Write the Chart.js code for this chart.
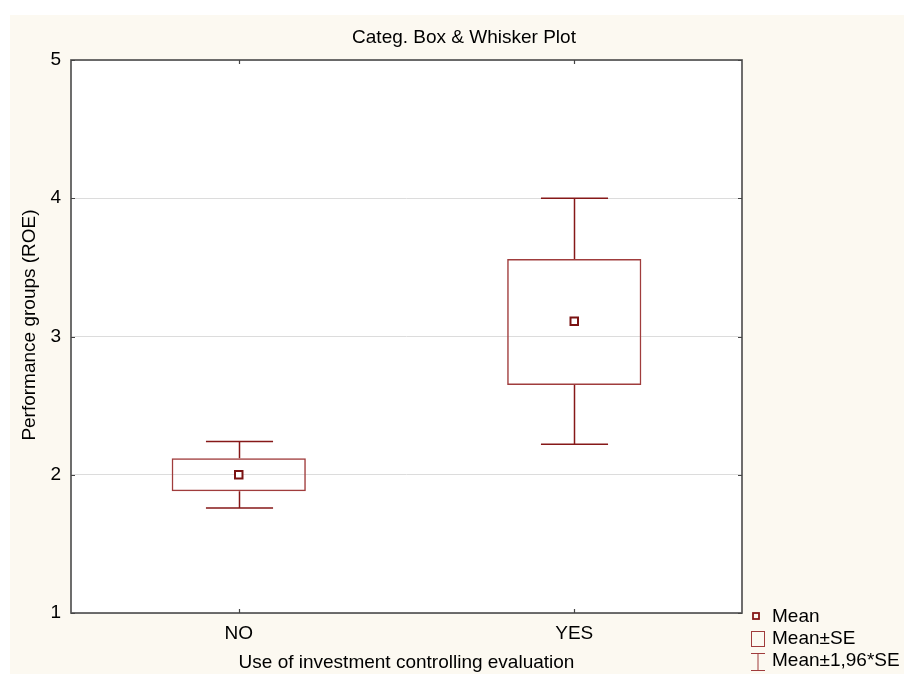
<!DOCTYPE html>
<html><head><meta charset="utf-8">
<script src="https://cdn.jsdelivr.net/npm/chart.js@4"></script>
<style>html,body{margin:0;padding:0;background:#fff}#wrap{width:904px;height:674px}</style>
</head><body><div id="wrap"><canvas id="c" width="904" height="674"></canvas></div>
<script>
const categories = ['NO', 'YES'];
const meanValues = [2.00, 3.11];
const seLow = [1.88, 2.65];
const seHigh = [2.12, 3.56];
const ciLow = [1.76, 2.22];
const ciHigh = [2.24, 4.00];
const yTicks = [1, 2, 3, 4, 5];
const legendLabels = ['Mean', 'Mean±SE', 'Mean±1,96*SE'];
const chartTitle = 'Categ. Box & Whisker Plot';
const xTitle = 'Use of investment controlling evaluation';
const yTitle = 'Performance groups (ROE)';

const FONT = '"Liberation Sans", Arial, sans-serif';
const MAROON = '#861818';
const MAROON_LIGHT = '#a03c3c';
Chart.defaults.font.family = FONT;
Chart.defaults.color = '#000';

const bgPlugin = {
  id: 'bg',
  beforeDraw(chart) {
    const {ctx, chartArea: a} = chart;
    ctx.save();
    ctx.fillStyle = '#ffffff';
    ctx.fillRect(0, 0, chart.width, chart.height);
    ctx.fillStyle = '#fcf9f1';
    ctx.fillRect(10, 15, chart.width - 10, chart.height - 15);
    ctx.fillStyle = '#ffffff';
    ctx.fillRect(a.left, a.top, a.right - a.left, a.bottom - a.top);
    ctx.restore();
  }
};

const whiskerPlugin = {
  id: 'whiskers',
  afterDatasetsDraw(chart) {
    const {ctx, scales: {x, y}} = chart;
    const meta = chart.getDatasetMeta(0);
    ctx.save();
    ctx.strokeStyle = MAROON;
    ctx.lineWidth = 1.5;
    categories.forEach((c, i) => {
      const bar = meta.data[i];
      const cx = Math.round(x.getPixelForValue(i)) + 0.5;
      const half = bar.width / 4;
      const yHi = y.getPixelForValue(ciHigh[i]);
      const yLo = y.getPixelForValue(ciLow[i]);
      const bTop = y.getPixelForValue(seHigh[i]);
      const bBot = y.getPixelForValue(seLow[i]);
      ctx.beginPath();
      ctx.moveTo(cx, bTop); ctx.lineTo(cx, yHi);
      ctx.moveTo(cx, bBot); ctx.lineTo(cx, yLo);
      ctx.moveTo(cx - half, yHi); ctx.lineTo(cx + half, yHi);
      ctx.moveTo(cx - half, yLo); ctx.lineTo(cx + half, yLo);
      ctx.stroke();
    });
    ctx.restore();
  }
};

const framePlugin = {
  id: 'frame',
  afterDraw(chart) {
    const {ctx, chartArea: a, scales: {x, y}} = chart;
    ctx.save();
    // frame
    ctx.strokeStyle = '#555555';
    ctx.lineWidth = 1.7;
    ctx.strokeRect(a.left, a.top, a.right - a.left, a.bottom - a.top);
    // inward ticks
    ctx.lineWidth = 1.2;
    ctx.strokeStyle = '#444';
    ctx.beginPath();
    x.ticks.forEach((t, i) => {
      const px = Math.round(x.getPixelForTick(i)) + 0.5;
      ctx.moveTo(px, a.bottom); ctx.lineTo(px, a.bottom - 4);
      ctx.moveTo(px, a.top); ctx.lineTo(px, a.top + 4);
    });
    y.ticks.forEach((t, i) => {
      const py = Math.round(y.getPixelForTick(i)) + 0.5;
      ctx.moveTo(a.left, py); ctx.lineTo(a.left + 4, py);
      ctx.moveTo(a.right, py); ctx.lineTo(a.right - 4, py);
    });
    ctx.stroke();

    ctx.fillStyle = '#000';
    ctx.font = '19px ' + FONT;
    ctx.textBaseline = 'middle';
    // title
    ctx.textAlign = 'center';
    ctx.fillText(chartTitle, 464, 38);
    // y-axis title
    ctx.save();
    ctx.translate(30, 325);
    ctx.rotate(-Math.PI / 2);
    ctx.fillText(yTitle, 0, 0);
    ctx.restore();

    // legend
    const lx = 772;
    const ly = [617, 639, 661];
    ctx.textAlign = 'left';
    ctx.fillText(legendLabels[0], lx, ly[0]);
    ctx.fillText(legendLabels[1], lx, ly[1]);
    ctx.fillText(legendLabels[2], lx, ly[2]);
    // icon: mean
    ctx.strokeStyle = MAROON;
    ctx.lineWidth = 1.8;
    ctx.strokeRect(753, 613, 6, 6);
    // icon: mean±SE
    ctx.strokeStyle = MAROON_LIGHT;
    ctx.lineWidth = 1;
    ctx.strokeRect(751.5, 631.5, 13, 15);
    // icon: mean±1.96SE
    ctx.beginPath();
    ctx.moveTo(751, 653.5); ctx.lineTo(765, 653.5);
    ctx.moveTo(758, 653.5); ctx.lineTo(758, 670.5);
    ctx.moveTo(751, 670.5); ctx.lineTo(765, 670.5);
    ctx.stroke();
    ctx.restore();
  }
};

new Chart(document.getElementById('c'), {
  type: 'bar',
  data: {
    labels: categories,
    datasets: [
      {
        type: 'bar',
        label: legendLabels[1],
        data: categories.map((c, i) => [seLow[i], seHigh[i]]),
        backgroundColor: 'rgba(255,255,255,0)',
        borderColor: MAROON_LIGHT,
        borderWidth: 1.5,
        borderSkipped: false,
        barPercentage: 0.4,
        categoryPercentage: 1,
        order: 2
      },
      {
        type: 'line',
        label: legendLabels[0],
        data: meanValues,
        showLine: false,
        pointStyle: 'rect',
        pointRadius: 5.3,
        pointHoverRadius: 5.3,
        pointBorderWidth: 2,
        pointBackgroundColor: '#ffffff',
        pointBorderColor: '#7a1212',
        order: 0
      }
    ]
  },
  options: {
    responsive: false,
    devicePixelRatio: 1,
    animation: false,
    events: [],
    layout: { padding: { left: 0, top: 60, right: 162, bottom: 0 } },
    plugins: {
      legend: { display: false },
      title: { display: false },
      tooltip: { enabled: false }
    },
    scales: {
      x: {
        type: 'category',
        offset: true,
        grid: { display: false },
        border: { display: false },
        ticks: { font: { size: 19 }, color: '#000', padding: 1 },
        title: { display: true, text: xTitle, font: { size: 19 }, color: '#000', padding: { top: 0, bottom: 0 } },
        afterFit(s) { s.height = 61; }
      },
      y: {
        type: 'linear',
        min: 1,
        max: 5,
        afterBuildTicks(s) { s.ticks = yTicks.map(v => ({ value: v })); },
        ticks: { font: { size: 19 }, color: '#000', padding: 10 },
        grid: { color: '#dcdcdc', lineWidth: 1, drawTicks: false },
        border: { display: false },
        title: { display: false },
        afterFit(s) { s.width = 71; }
      }
    }
  },
  plugins: [bgPlugin, whiskerPlugin, framePlugin]
});
</script>
</body></html>
